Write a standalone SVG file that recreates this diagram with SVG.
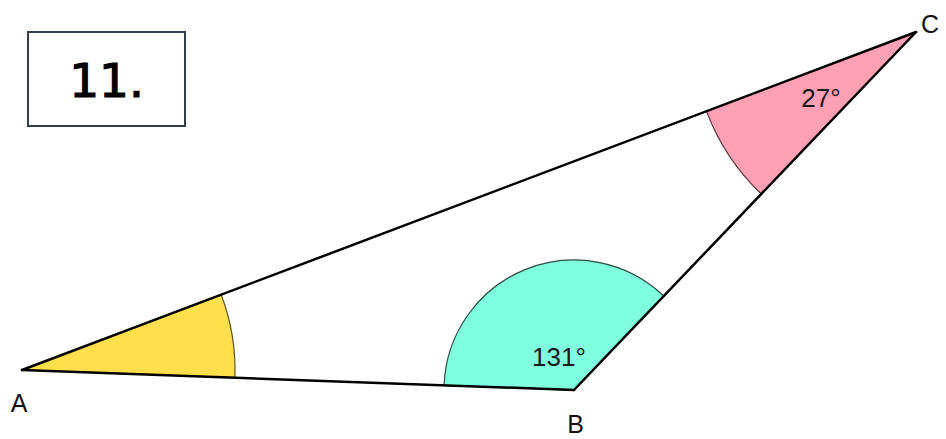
<svg xmlns="http://www.w3.org/2000/svg" width="946" height="439" viewBox="0 0 946 439">
<style>
.lbl{font-family:"Liberation Sans",Arial,sans-serif;font-size:25px;fill:#111}
.ang{font-family:"Liberation Sans",Arial,sans-serif;font-size:26px;fill:#1a1a1a}
.edge{stroke:#000;stroke-width:2.5;fill:none;stroke-linecap:round}
</style>
<rect x="0" y="0" width="946" height="439" fill="#fff"/>
<g id="title">
<rect x="28" y="32" width="157" height="94" fill="#fff" stroke="#2f3f50" stroke-width="2"/>
<text x="106.5" y="97" text-anchor="middle" style="font-family:'DejaVu Sans',sans-serif;font-size:47px;fill:#000;stroke:#000;stroke-width:1.2">11.</text>
</g>
<g id="angleA">
<path d="M22,370 L221.2,294.7 A213,213 0 0,1 234.9,377.7 Z" fill="#ffe04c" stroke="#5c5220" stroke-width="1.2"/>
</g>
<g id="angleB">
<path d="M574,390 L444.1,385.3 A130,130 0 0,1 663.8,296 Z" fill="#80ffdf" stroke="#2c4a42" stroke-width="1.2"/>
<text class="ang" x="559" y="366" text-anchor="middle">131°</text>
</g>
<g id="angleC">
<path d="M916,32 L706.5,111.2 A224,224 0 0,0 761.3,194 Z" fill="#ffa0b4" stroke="#5a3a42" stroke-width="1.2"/>
<text class="ang" x="821" y="107" text-anchor="middle">27°</text>
</g>
<g id="edges">
<line class="edge" x1="22" y1="370" x2="574" y2="390"/>
<line class="edge" x1="574" y1="390" x2="916" y2="32"/>
<line class="edge" x1="916" y1="32" x2="22" y2="370"/>
</g>
<g id="vertexA"><text class="lbl" x="19" y="412" text-anchor="middle">A</text></g>
<g id="vertexB"><text class="lbl" x="575.5" y="433" text-anchor="middle">B</text></g>
<g id="vertexC"><text class="lbl" x="930" y="33" text-anchor="middle">C</text></g>
</svg>
